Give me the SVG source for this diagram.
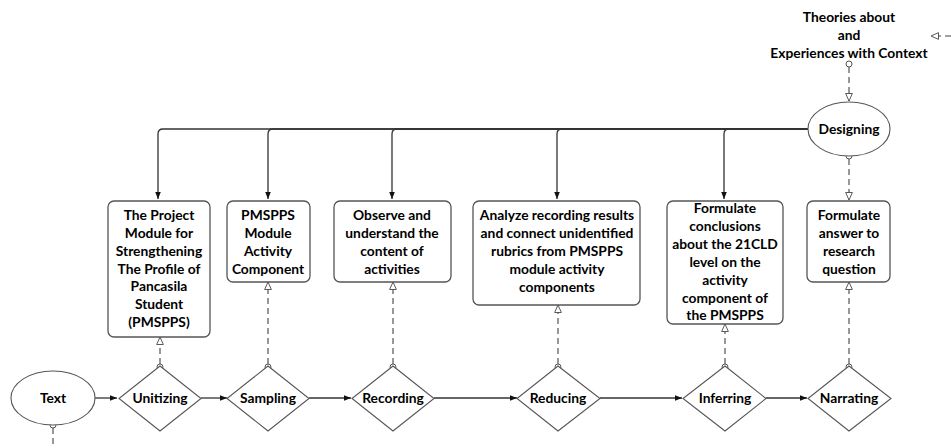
<svg xmlns="http://www.w3.org/2000/svg" width="951" height="448" viewBox="0 0 951 448">
<defs>
<style>
.t{font-family:Lato,"Liberation Sans",sans-serif;font-weight:700;font-size:13.8px;fill:#000;text-anchor:middle}
.box{fill:#fff;stroke:#555;stroke-width:1.3}
.shape{fill:#fff;stroke:#555;stroke-width:1.1}
.solid{fill:none;stroke:#333;stroke-width:1.3}
.dash{fill:none;stroke:#444;stroke-width:1.1;stroke-dasharray:6 4}
.dot{fill:#fff;stroke:#555;stroke-width:1}
</style>
<marker id="fa" viewBox="0 0 10 10" refX="10" refY="5" markerWidth="7" markerHeight="7" markerUnits="userSpaceOnUse" orient="auto">
<path d="M0,1 L10,5 L0,9 Z" fill="#111"/>
</marker>
<marker id="oa" viewBox="0 0 12 12" refX="11" refY="6" markerWidth="9" markerHeight="9" markerUnits="userSpaceOnUse" orient="auto">
<path d="M1,1.5 L11,6 L1,10.5 Z" fill="#fff" stroke="#555" stroke-width="1.3"/>
</marker>
</defs>

<g id="connectors">
<path class="solid" d="M808,129 H163 Q158,129 158,134 V199" marker-end="url(#fa)"/>
<path class="solid" d="M808,129 H273 Q268,129 268,134 V199" marker-end="url(#fa)"/>
<path class="solid" d="M808,129 H397 Q392,129 392,134 V199" marker-end="url(#fa)"/>
<path class="solid" d="M808,129 H562 Q557,129 557,134 V199" marker-end="url(#fa)"/>
<path class="solid" d="M808,129 H729 Q724,129 724,134 V199" marker-end="url(#fa)"/>
<path class="solid" d="M95,398 H117" marker-end="url(#fa)"/>
<path class="solid" d="M201,398 H227" marker-end="url(#fa)"/>
<path class="solid" d="M309,398 H351" marker-end="url(#fa)"/>
<path class="solid" d="M434,398 H517" marker-end="url(#fa)"/>
<path class="solid" d="M600,398 H682" marker-end="url(#fa)"/>
<path class="solid" d="M766,398 H807" marker-end="url(#fa)"/>
<path class="dash" d="M849,67 V101" marker-end="url(#oa)"/>
<path class="dash" d="M849,159 V200" marker-end="url(#oa)"/>
<path class="dash" d="M160,364 V337" marker-end="url(#oa)"/>
<path class="dash" d="M268,364 V282" marker-end="url(#oa)"/>
<path class="dash" d="M393,364 V282" marker-end="url(#oa)"/>
<path class="dash" d="M558,364 V305" marker-end="url(#oa)"/>
<path class="dash" d="M725,364 V324" marker-end="url(#oa)"/>
<path class="dash" d="M849,364 V282" marker-end="url(#oa)"/>
<path class="dash" d="M53,428 V448"/>
<path class="dash" d="M951,36 H931" marker-end="url(#oa)"/>
<circle class="dot" cx="849" cy="64" r="3"/>
<circle class="dot" cx="849" cy="156" r="3"/>
<circle class="dot" cx="160" cy="367" r="3"/>
<circle class="dot" cx="268" cy="367" r="3"/>
<circle class="dot" cx="393" cy="367" r="3"/>
<circle class="dot" cx="558" cy="367" r="3"/>
<circle class="dot" cx="725" cy="367" r="3"/>
<circle class="dot" cx="849" cy="367" r="3"/>
<circle class="dot" cx="53" cy="425" r="3"/>
</g>

<g id="theories">
<text class="t" x="849" y="22">Theories about</text>
<text class="t" x="849" y="40">and</text>
<text class="t" x="849" y="58">Experiences with Context</text>
</g>

<g id="designing">
<ellipse class="shape" cx="849" cy="129" rx="41" ry="27"/>
<text class="t" x="849" y="134">Designing</text>
</g>

<g id="box1">
<rect class="box" x="108" y="201" width="102" height="136" rx="6"/>
<text class="t" x="159" y="220">The Project</text>
<text class="t" x="159" y="238">Module for</text>
<text class="t" x="159" y="256">Strengthening</text>
<text class="t" x="159" y="274">The Profile of</text>
<text class="t" x="159" y="291">Pancasila</text>
<text class="t" x="159" y="309">Student</text>
<text class="t" x="159" y="327">(PMSPPS)</text>
</g>

<g id="box2">
<rect class="box" x="227" y="201" width="83" height="81" rx="6"/>
<text class="t" x="268" y="220">PMSPPS</text>
<text class="t" x="268" y="238">Module</text>
<text class="t" x="268" y="256">Activity</text>
<text class="t" x="268" y="274">Component</text>
</g>

<g id="box3">
<rect class="box" x="334" y="201" width="117" height="81" rx="6"/>
<text class="t" x="392" y="220">Observe and</text>
<text class="t" x="392" y="238">understand the</text>
<text class="t" x="392" y="256">content of</text>
<text class="t" x="392" y="274">activities</text>
</g>

<g id="box4">
<rect class="box" x="473" y="201" width="167" height="104" rx="6"/>
<text class="t" x="557" y="220">Analyze recording results</text>
<text class="t" x="557" y="238">and connect unidentified</text>
<text class="t" x="557" y="256">rubrics from PMSPPS</text>
<text class="t" x="557" y="274">module activity</text>
<text class="t" x="557" y="292">components</text>
</g>

<g id="box5">
<rect class="box" x="667" y="201" width="116" height="123" rx="6"/>
<text class="t" x="725" y="213">Formulate</text>
<text class="t" x="725" y="231">conclusions</text>
<text class="t" x="725" y="249">about the 21CLD</text>
<text class="t" x="725" y="267">level on the</text>
<text class="t" x="725" y="285">activity</text>
<text class="t" x="725" y="303">component of</text>
<text class="t" x="725" y="320">the PMSPPS</text>
</g>

<g id="box6">
<rect class="box" x="807" y="201" width="83" height="81" rx="6"/>
<text class="t" x="849" y="220">Formulate</text>
<text class="t" x="849" y="238">answer to</text>
<text class="t" x="849" y="256">research</text>
<text class="t" x="849" y="274">question</text>
</g>

<g id="text-node">
<ellipse class="shape" cx="53" cy="398" rx="42" ry="27"/>
<text class="t" x="53" y="403">Text</text>
</g>

<g id="unitizing">
<path class="shape" d="M160,366 L201,398.5 L160,431 L119,398.5 Z"/>
<text class="t" x="160" y="403">Unitizing</text>
</g>
<g id="sampling">
<path class="shape" d="M268,366 L309,398.5 L268,431 L227,398.5 Z"/>
<text class="t" x="268" y="403">Sampling</text>
</g>
<g id="recording">
<path class="shape" d="M393,366 L434,398.5 L393,431 L352,398.5 Z"/>
<text class="t" x="393" y="403">Recording</text>
</g>
<g id="reducing">
<path class="shape" d="M558,366 L600,398.5 L558,431 L517,398.5 Z"/>
<text class="t" x="558" y="403">Reducing</text>
</g>
<g id="inferring">
<path class="shape" d="M725,366 L766,398.5 L725,431 L683,398.5 Z"/>
<text class="t" x="725" y="403">Inferring</text>
</g>
<g id="narrating">
<path class="shape" d="M849,366 L891,398.5 L849,431 L808,398.5 Z"/>
<text class="t" x="849" y="403">Narrating</text>
</g>
</svg>
